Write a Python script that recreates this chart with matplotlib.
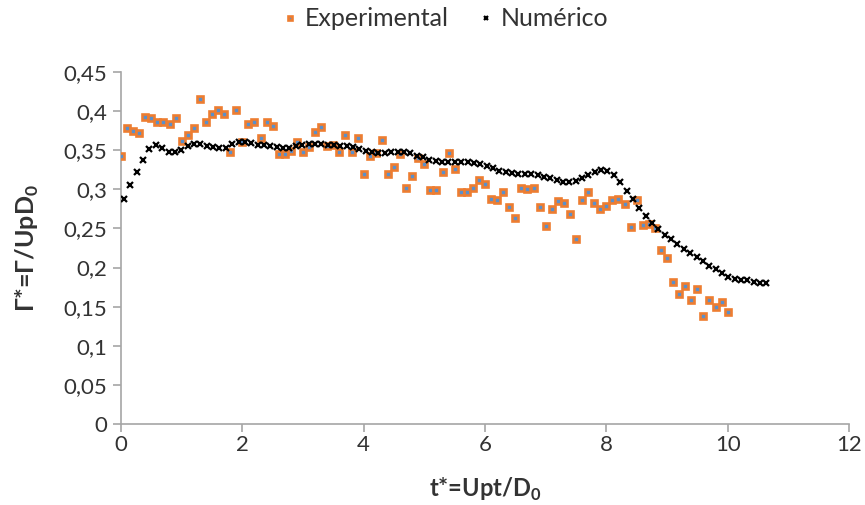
import numpy as np
import matplotlib
matplotlib.use("Agg")
import matplotlib.pyplot as plt
from matplotlib.ticker import FuncFormatter, MultipleLocator

plt.rcParams['font.family'] = ['Lato', 'DejaVu Sans']
plt.rcParams['mathtext.fontset'] = 'custom'
plt.rcParams['mathtext.rm'] = 'Lato'
plt.rcParams['mathtext.bf'] = 'Lato:bold'

# experimental circulation, sampled every 0.1 in t*
exp_t = np.round(np.arange(0, 101) * 0.1, 1)
exp_gamma = [
    0.342, 0.378, 0.375, 0.372, 0.393, 0.391, 0.386, 0.386, 0.383, 0.391,
    0.362, 0.370, 0.379, 0.416, 0.386, 0.396, 0.402, 0.396, 0.348, 0.401,
    0.361, 0.384, 0.386, 0.365, 0.386, 0.381, 0.345, 0.345, 0.349, 0.360,
    0.348, 0.354, 0.373, 0.380, 0.355, 0.357, 0.348, 0.369, 0.348, 0.365,
    0.320, 0.343, 0.346, 0.363, 0.320, 0.329, 0.345, 0.302, 0.317, 0.340,
    0.332, 0.299, 0.299, 0.322, 0.347, 0.326, 0.297, 0.297, 0.302, 0.312,
    0.307, 0.288, 0.286, 0.296, 0.277, 0.263, 0.302, 0.301, 0.302, 0.278,
    0.253, 0.275, 0.285, 0.283, 0.268, 0.237, 0.287, 0.296, 0.283, 0.275,
    0.279, 0.286, 0.288, 0.281, 0.252, 0.287, 0.255, 0.256, 0.251, 0.222,
    0.212, 0.182, 0.166, 0.176, 0.159, 0.173, 0.138, 0.158, 0.150, 0.156,
    0.143,
]

# numerical result
num_t = np.linspace(0.05, 10.64, 102)
num_gamma = [
    0.288, 0.305, 0.322, 0.338, 0.351, 0.357, 0.353, 0.348, 0.348, 0.350,
    0.355, 0.358, 0.358, 0.356, 0.354, 0.353, 0.353, 0.358, 0.361, 0.360,
    0.359, 0.357, 0.357, 0.355, 0.354, 0.353, 0.353, 0.355, 0.357, 0.358,
    0.358, 0.358, 0.357, 0.357, 0.356, 0.355, 0.354, 0.352, 0.349, 0.348,
    0.347, 0.347, 0.348, 0.348, 0.348, 0.346, 0.343, 0.341, 0.338, 0.336,
    0.335, 0.335, 0.335, 0.335, 0.335, 0.334, 0.333, 0.330, 0.327, 0.324,
    0.322, 0.321, 0.320, 0.319, 0.319, 0.318, 0.316, 0.314, 0.312, 0.310,
    0.310, 0.311, 0.314, 0.318, 0.322, 0.325, 0.323, 0.318, 0.310, 0.298,
    0.288, 0.276, 0.266, 0.257, 0.249, 0.242, 0.236, 0.230, 0.224, 0.219,
    0.213, 0.208, 0.202, 0.198, 0.193, 0.188, 0.186, 0.184, 0.184, 0.182,
    0.180, 0.180,
]

axis_grey = '#A6A6A6'
text_col = '#333333'

fig = plt.figure(figsize=(8.65, 5.05), dpi=100)
ax = fig.add_axes([0.1399, 0.1604, 0.8416, 0.697])

ax.plot(exp_t, exp_gamma, linestyle='none', marker='s', ms=3.8,
        mfc='#5B8FC9', mec='#ED7D31', mew=1.9, label='Experimental', zorder=3)
ax.plot(num_t, num_gamma, linestyle='none', marker='x', ms=4, color='black',
        mew=1.6, label='Numérico', zorder=4)

ax.set_xlim(0, 12)
ax.set_ylim(0, 0.45)
ax.xaxis.set_major_locator(MultipleLocator(2))
ax.yaxis.set_major_locator(MultipleLocator(0.05))
ax.yaxis.set_major_formatter(FuncFormatter(lambda v, p: f"{v:.2f}".rstrip('0').rstrip('.').replace('.', ',')))

for side in ['top', 'right']:
    ax.spines[side].set_visible(False)
for side in ['left', 'bottom']:
    ax.spines[side].set_color(axis_grey)
    ax.spines[side].set_linewidth(1.2)
ax.tick_params(colors=axis_grey, labelcolor=text_col, labelsize=16,
               length=6, width=1.2, direction='out')
ax.tick_params(axis='x', pad=2)
ax.tick_params(axis='y', pad=4)

ax.set_xlabel(r't*=Upt/D$_\mathbf{0}$', fontsize=17, fontweight='bold',
              color=text_col, labelpad=15)
ax.set_ylabel(r'Γ*=Γ/UpD$_\mathbf{0}$', fontsize=18, fontweight='bold',
              color=text_col, labelpad=16)

fig.legend(loc='upper center', bbox_to_anchor=(0.512, 1.03), ncol=2, frameon=False,
           fontsize=18, handletextpad=0.1, columnspacing=1.0, markerscale=0.75,
           handlelength=1.0, labelcolor=text_col)

fig.savefig('out.png', dpi=100)
